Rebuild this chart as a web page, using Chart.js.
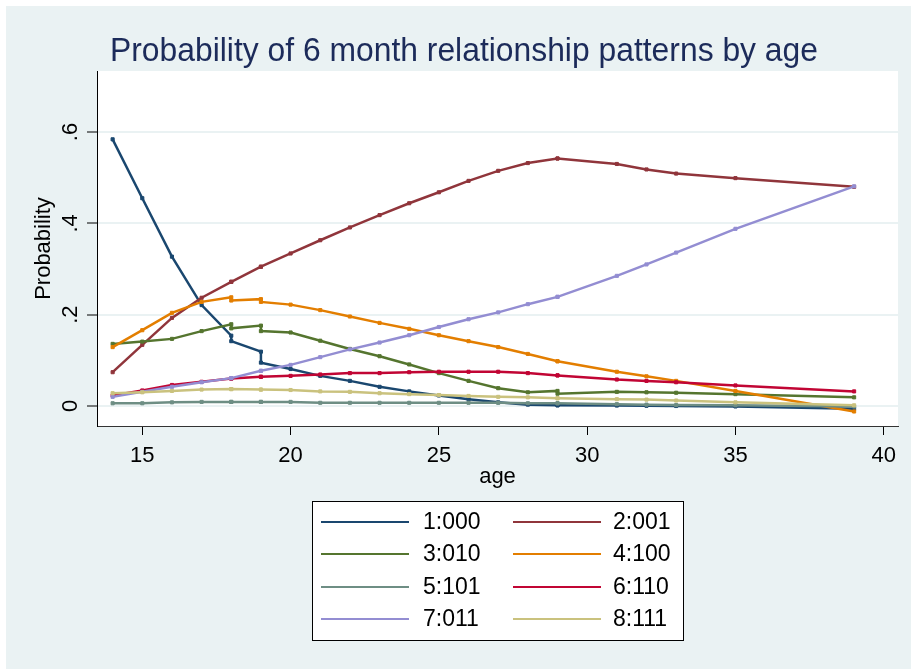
<!DOCTYPE html>
<html>
<head>
<meta charset="utf-8">
<script src="https://cdn.jsdelivr.net/npm/chart.js@4/dist/chart.umd.min.js"></script>
<style>
  html, body { margin: 0; padding: 0; background: #ffffff; }
  #wrap { position: relative; width: 911px; height: 669px; }
  canvas { display: block; }
</style>
</head>
<body>
<div id="wrap"><canvas id="c" width="911" height="669"></canvas></div>
<script>
// ---- data ----
const ages = [14,15,16,17,18,18,19,19,20,21,22,23,24,25,26,27,28,29,29,31,32,33,35,39];
const seriesNames = ['1:000','2:001','3:010','4:100','5:101','6:110','7:011','8:111'];
const s1 = [.584,.455,.327,.221,.154,.142,.119,.095,.081,.066,.055,.042,.032,.023,.015,.008,.003,.0015,.0015,.001,.0005,0,-.001,-.006];
const s2 = [.074,.134,.193,.237,.272,.272,.305,.305,.334,.363,.391,.418,.444,.468,.493,.515,.532,.542,.542,.530,.518,.509,.499,.480];
const s3 = [.136,.141,.147,.164,.179,.170,.176,.164,.161,.143,.125,.109,.091,.072,.055,.039,.030,.033,.027,.031,.030,.029,.026,.019];
const s4 = [.129,.166,.204,.228,.238,.231,.234,.228,.222,.210,.196,.182,.169,.155,.142,.129,.114,.098,.098,.075,.065,.055,.033,-.012];
const s5 = [.006,.006,.008,.009,.009,.009,.009,.009,.009,.007,.007,.007,.007,.007,.007,.007,.006,.006,.006,.004,.003,.002,.0015,-.001];
const s6 = [.023,.034,.046,.053,.060,.060,.064,.064,.066,.069,.072,.072,.074,.075,.075,.075,.072,.067,.067,.058,.055,.052,.045,.032];
const s7 = [.020,.031,.042,.052,.061,.061,.077,.077,.090,.107,.124,.139,.155,.173,.190,.205,.223,.239,.239,.285,.310,.336,.388,.481];
const s8 = [.028,.030,.033,.036,.037,.037,.036,.036,.035,.032,.031,.028,.026,.024,.022,.020,.019,.017,.017,.015,.014,.012,.008,.0015];
const xTicks = [15,20,25,30,35,40];
const yTicks = [0,.2,.4,.6];
const yTickLabels = ['0','.2','.4','.6'];
const titleText = 'Probability of 6 month relationship patterns by age';
const xTitle = 'age';
const yTitle = 'Probability';

// ---- styles ----
const colors = ['#1a476f','#90353b','#55752f','#e37e00','#6e8e84','#c10534','#938dd2','#cac27e'];
const allSeries = [s1,s2,s3,s4,s5,s6,s7,s8];
const FONT = '"Liberation Sans", Arial, Helvetica, sans-serif';
const BG = '#eaf2f3';

const datasets = allSeries.map((s, i) => ({
  label: seriesNames[i],
  data: ages.map((a, j) => ({x: a, y: s[j]})),
  borderColor: colors[i],
  backgroundColor: colors[i],
  borderWidth: 2.5,
  pointStyle: 'rect',
  pointRadius: 2.2,
  pointBorderWidth: 1,
  pointHoverRadius: 2.2,
  tension: 0,
  fill: false,
  order: 8 - i
}));

const decor = {
  id: 'decor',
  beforeDraw(chart) {
    const ctx = chart.ctx, a = chart.chartArea;
    ctx.save();
    ctx.fillStyle = '#ffffff';
    ctx.fillRect(0, 0, chart.width, chart.height);
    ctx.fillStyle = BG;
    ctx.fillRect(6, 6, chart.width - 6, chart.height - 6);
    ctx.fillStyle = '#ffffff';
    ctx.fillRect(a.left, a.top, a.right - a.left, a.bottom - a.top);
    ctx.restore();
  },
  afterDraw(chart) {
    const ctx = chart.ctx, a = chart.chartArea;
    const ys = chart.scales.y;
    ctx.save();
    // title
    ctx.fillStyle = '#1c2b5a';
    ctx.font = '33px ' + FONT;
    ctx.textBaseline = 'alphabetic';
    ctx.textAlign = 'left';
    const tw = ctx.measureText(titleText).width;
    const target = 708;
    ctx.save();
    ctx.translate(110, 61);
    ctx.scale(Math.min(1, target / tw), 1);
    ctx.fillText(titleText, 0, 0);
    ctx.restore();
    // y tick labels rotated
    ctx.fillStyle = '#000000';
    ctx.font = '22px ' + FONT;
    ctx.textAlign = 'center';
    ctx.textBaseline = 'middle';
    yTicks.forEach((v, i) => {
      const py = ys.getPixelForValue(v);
      ctx.save();
      ctx.translate(71, py);
      ctx.rotate(-Math.PI / 2);
      ctx.fillText(yTickLabels[i], 0, 0);
      ctx.restore();
    });
    // axis titles
    ctx.save();
    ctx.translate(44, (a.top + a.bottom) / 2);
    ctx.rotate(-Math.PI / 2);
    ctx.fillText(yTitle, 0, 0);
    ctx.restore();
    ctx.fillText(xTitle, (a.left + a.right) / 2, 477);
    // legend
    const L = {x: 312, y: 501, w: 371, h: 139};
    ctx.fillStyle = '#ffffff';
    ctx.fillRect(L.x, L.y, L.w, L.h);
    ctx.strokeStyle = '#000000';
    ctx.lineWidth = 1;
    ctx.strokeRect(L.x + 0.5, L.y + 0.5, L.w, L.h);
    const rowsY = [522, 554, 587, 619];
    const cols = [{l0: 321, l1: 409, t: 423}, {l0: 513, l1: 601, t: 613}];
    ctx.font = '23px ' + FONT;
    ctx.textAlign = 'left';
    ctx.textBaseline = 'middle';
    chart.data.datasets.forEach((ds, i) => {
      const r = Math.floor(i / 2), c = cols[i % 2];
      const y = rowsY[r];
      ctx.strokeStyle = ds.borderColor;
      ctx.lineWidth = 2;
      ctx.beginPath();
      ctx.moveTo(c.l0, y);
      ctx.lineTo(c.l1, y);
      ctx.stroke();
      ctx.fillStyle = '#000000';
      ctx.fillText(ds.label, c.t, y + 1);
    });
    ctx.restore();
  }
};

new Chart(document.getElementById('c'), {
  type: 'line',
  data: { datasets },
  plugins: [decor],
  options: {
    responsive: false,
    animation: false,
    devicePixelRatio: 1,
    layout: { padding: { left: 0, top: 71, right: 13, bottom: 0 } },
    plugins: { legend: { display: false }, title: { display: false }, tooltip: { enabled: false } },
    scales: {
      x: {
        type: 'linear',
        min: 13.473,
        max: 40.48,
        afterBuildTicks: (s) => { s.ticks = xTicks.map(v => ({value: v})); },
        afterFit: (s) => { s.height = 243; s.paddingLeft = 0; s.paddingRight = 0; },
        ticks: {
          color: '#000000',
          font: { family: FONT, size: 22 },
          padding: 8,
          maxRotation: 0,
          minRotation: 0,
          autoSkip: false,
          callback: (v) => String(v)
        },
        grid: { display: true, drawOnChartArea: false, drawTicks: true, tickLength: 9, tickColor: '#000000', tickWidth: 1 },
        border: { display: true, color: '#333333', width: 1 }
      },
      y: {
        type: 'linear',
        min: -0.0438,
        max: 0.7336,
        afterBuildTicks: (s) => { s.ticks = yTicks.map(v => ({value: v})); },
        afterFit: (s) => { s.width = 97; s.paddingTop = 0; s.paddingBottom = 0; },
        ticks: { display: false },
        grid: { display: true, color: BG, lineWidth: 2, drawTicks: true, tickLength: 10, tickColor: '#000000', tickWidth: 1 },
        border: { display: true, color: '#000000', width: 1 }
      }
    }
  }
});
</script>
</body>
</html>
